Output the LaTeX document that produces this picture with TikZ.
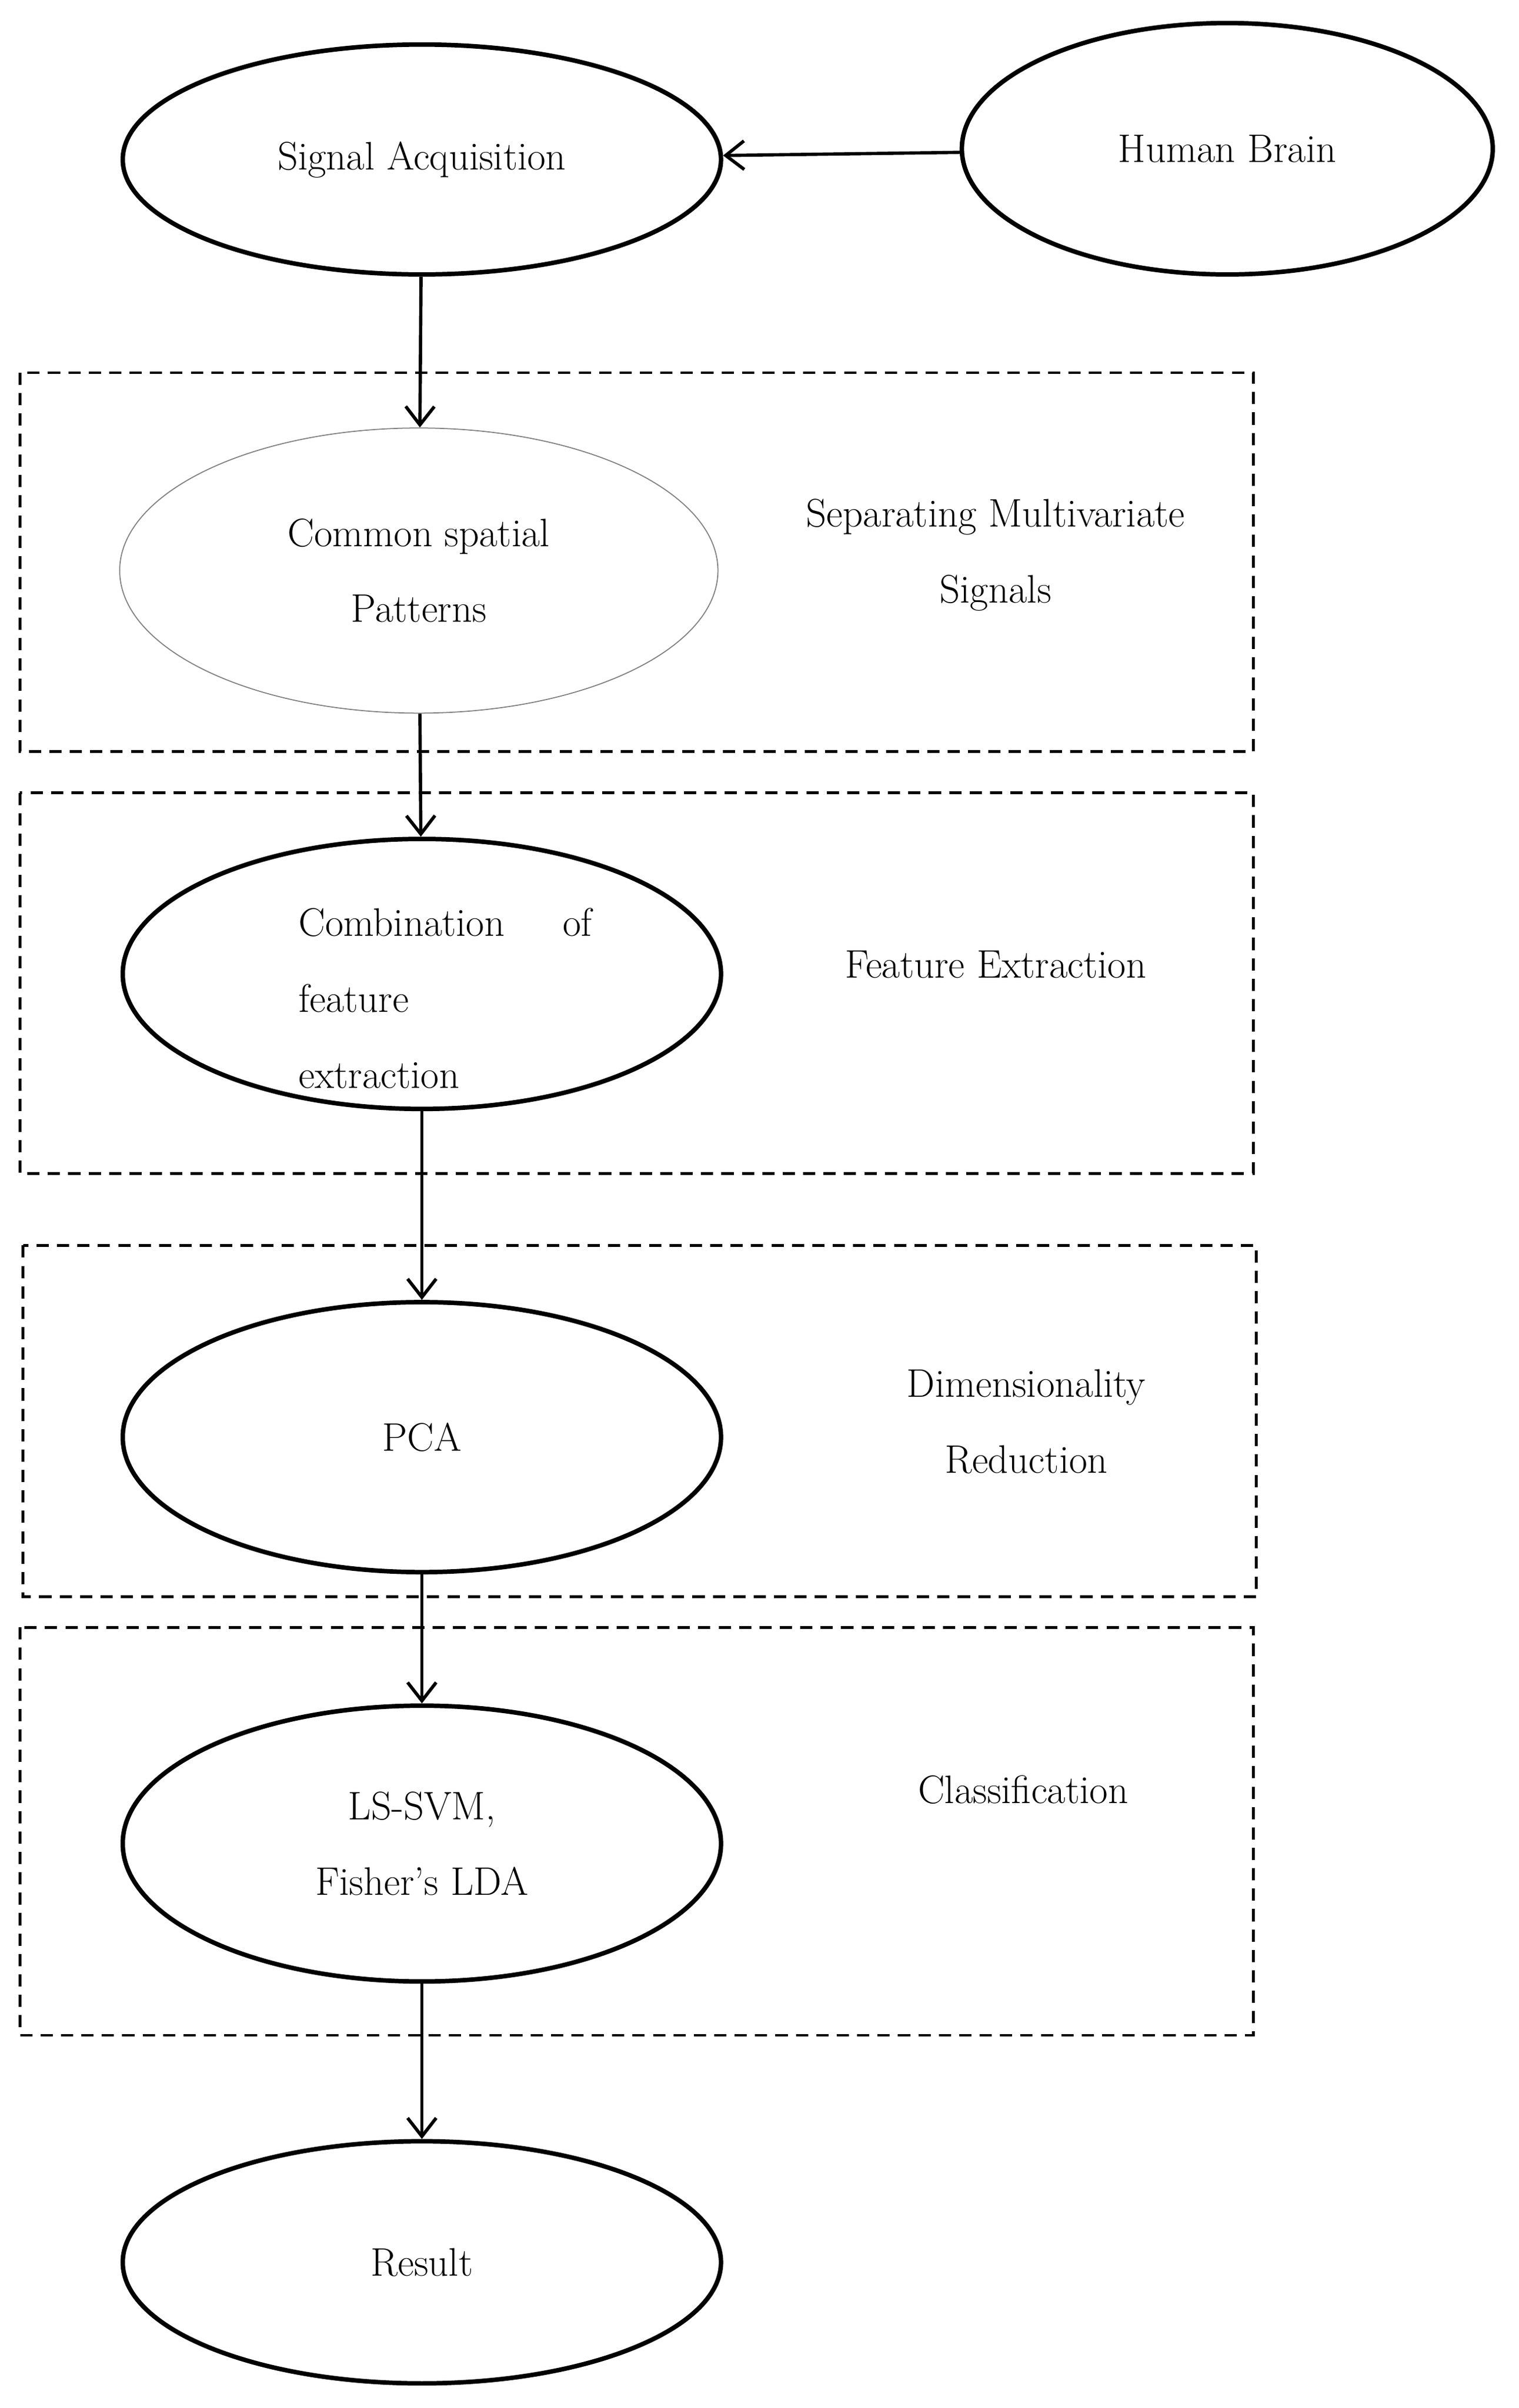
\documentclass[tikz,border=0pt]{standalone}
\usetikzlibrary{arrows.meta,shapes.geometric}

\begin{document}
\begin{tikzpicture}[x=0.02641cm, y=-0.02641cm,
    every node/.style = {font=\fontsize{19.5}{23}\selectfont},
    stage/.style = {draw, ellipse, line width=2.2pt, inner sep=0pt, minimum width=10.3cm},
    phase/.style = {draw, dashed, line width=1.4pt, dash pattern=on 6pt off 4pt},
    flow/.style = {-{Straight Barb[length=9pt, width=14pt]}, line width=1.6pt}]
    \useasboundingbox (0,0) rectangle (990,1570);

    \node[stage, minimum height=3.96cm] (acq) at (275,104) {Signal Acquisition};
    \node[stage, minimum width=9.14cm, minimum height=4.33cm] (brain) at (800,97) {Human Brain};

    \draw[phase] (13,243) rectangle (817,490);
    \node[stage, line width=0.5pt, draw=gray, minimum height=4.91cm, align=center] (csp) at (273,372) {Common spatial\\[0.5cm] Patterns};
    \node[align=center] (sep) at (649,362) {Separating Multivariate\\[0.5cm] Signals};

    \draw[phase] (13,517) rectangle (817,765);
    \node[stage, minimum height=4.65cm] (comb) at (275,635) {};
    \node[align=left, anchor=west] (combtxt) at (190,651) {\makebox[5.05cm][s]{Combination\hfill of}\\[0.5cm] feature\\[0.5cm] extraction};
    \node (feat) at (649,629) {Feature Extraction};

    \draw[phase] (15,812) rectangle (819,1041);
    \node[stage, minimum height=4.65cm] (pca) at (275,937) {PCA};
    \node[align=center] (dim) at (669,927) {Dimensionality\\[0.5cm] Reduction};

    \draw[phase] (13,1061) rectangle (817,1327);
    \node[stage, minimum height=4.75cm, align=center] (cls) at (275,1202) {LS-SVM,\\[0.5cm] Fisher's LDA};
    \node (clsl) at (667,1167) {Classification};

    \node[stage, minimum height=4.17cm] (res) at (275,1475) {Result};

    \draw[flow] (brain) -- (acq);
    \draw[flow] (acq) -- (csp);
    \draw[flow] (csp) -- (comb);
    \draw[flow] (comb) -- (pca);
    \draw[flow] (pca) -- (cls);
    \draw[flow] (cls) -- (res);
\end{tikzpicture}
\end{document}
